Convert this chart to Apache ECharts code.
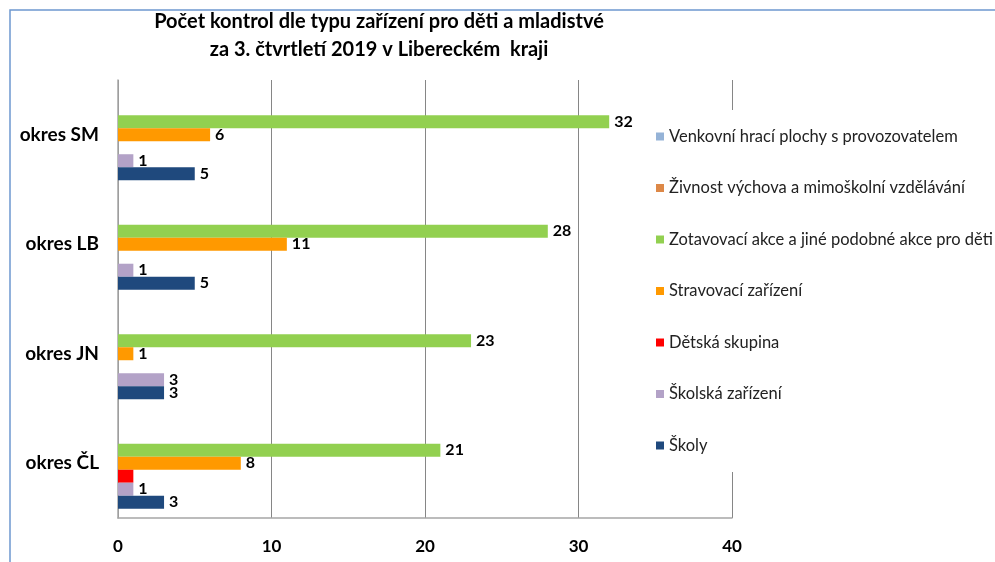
<!DOCTYPE html>
<html>
<head>
<meta charset="utf-8">
<script src="https://cdn.jsdelivr.net/npm/echarts@6/dist/echarts.min.js"></script>
<style>
  html, body { margin: 0; padding: 0; background: #fff; }
  #main { width: 995px; height: 562px; }
</style>
</head>
<body>
<div id="main"></div>
<script>
// okresy (od spodu nahoru, jak je kreslí kategoriální osa y)
var okresy = ['okres ČL', 'okres JN', 'okres LB', 'okres SM'];

// hodnoty po řadách, ve stejném pořadí jako okresy
var venkovni  = [0, 0, 0, 0];
var zivnost   = [0, 0, 0, 0];
var zotavovaci = [21, 23, 28, 32];
var stravovaci = [8, 1, 11, 6];
var detska    = [1, 0, 0, 0];
var skolska   = [1, 3, 1, 1];
var skoly     = [3, 3, 5, 5];

var xTicks = [0, 10, 20, 30, 40];

var rady = [
    { name: 'Venkovní hrací plochy s provozovatelem', data: venkovni, color: '#95b3d7' },
    { name: 'Živnost výchova a mimoškolní vzdělávání', data: zivnost, color: '#dd8847' },
    { name: 'Zotavovací akce a jiné podobné akce pro děti', data: zotavovaci, color: '#92d050' },
    { name: 'Stravovací zařízení', data: stravovaci, color: '#ff9900' },
    { name: 'Dětská skupina', data: detska, color: '#ff0000', noLabel: true },
    { name: 'Školská zařízení', data: skolska, color: '#b3a2c7' },
    { name: 'Školy', data: skoly, color: '#1f497d' }
];

var font = 'Lato, "Open Sans", sans-serif';

var myChart = echarts.init(document.getElementById('main'));

var option = {
    animation: false,
    textStyle: { fontFamily: font },
    title: {
        text: 'Počet kontrol dle typu zařízení pro děti a mladistvé\nza 3. čtvrtletí 2019 v Libereckém  kraji',
        left: 379,
        top: 8,
        padding: 0,
        textAlign: 'center',
        textStyle: {
            fontFamily: font,
            fontSize: 20,
            fontWeight: 'bold',
            color: '#000',
            lineHeight: 28
        }
    },
    legend: {
        orient: 'vertical',
        left: 646,
        top: 110,
        padding: [18, 20, 18, 10],
        backgroundColor: '#fff',
        data: rady.map(function (r) { return r.name; }),
        icon: 'rect',
        itemWidth: 8,
        itemHeight: 8,
        itemGap: 34.5,
        textStyle: {
            fontFamily: font,
            fontSize: 16.5,
            color: '#222'
        }
    },
    grid: {
        left: 118,
        right: 263,
        top: 80,
        bottom: 44
    },
    xAxis: {
        type: 'value',
        min: xTicks[0],
        max: xTicks[xTicks.length - 1],
        interval: 10,
        axisLine: { show: true, lineStyle: { color: '#a6a6a6', width: 1.5 } },
        axisTick: { show: false },
        splitLine: { lineStyle: { color: '#868686', width: 1 } },
        axisLabel: {
            margin: 20,
            fontSize: 17,
            fontWeight: 'bold',
            color: '#000',
            fontFamily: font
        }
    },
    yAxis: {
        type: 'category',
        data: okresy,
        axisLine: { show: true, lineStyle: { color: '#a6a6a6', width: 1.5 } },
        axisTick: { show: false },
        splitLine: { show: false },
        axisLabel: {
            margin: 19,
            fontSize: 19,
            fontWeight: 'bold',
            color: '#000',
            fontFamily: font
        }
    },
    graphic: [
        {
            type: 'polyline',
            shape: { points: [[10, 562], [10, 10], [995, 10]] },
            style: { stroke: '#6e98d0', lineWidth: 1.5, fill: null },
            silent: true
        }
    ],
    series: rady.map(function (r) {
        return {
            name: r.name,
            type: 'bar',
            data: r.data,
            barCategoryGap: '17%',
            barGap: '0%',
            itemStyle: { color: r.color },
            label: {
                show: !r.noLabel,
                position: 'right',
                distance: 5,
                fontSize: 16,
                fontWeight: 'bold',
                color: '#000',
                fontFamily: font,
                formatter: function (p) { return p.value === 0 ? '' : p.value; }
            }
        };
    })
};

myChart.setOption(option);
</script>
</body>
</html>
